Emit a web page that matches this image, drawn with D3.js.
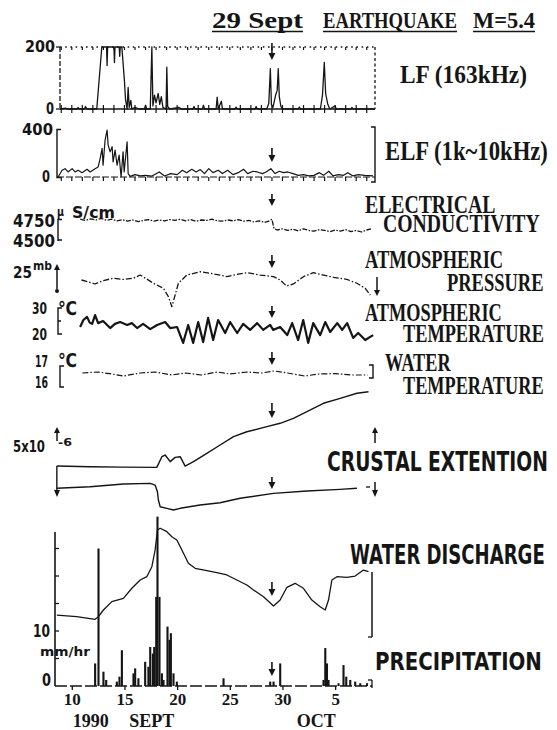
<!DOCTYPE html>
<html>
<head>
<meta charset="utf-8">
<script src="https://cdn.jsdelivr.net/npm/d3@7"></script>
<style>
  html, body { margin: 0; padding: 0; background: #fff; }
  svg { display: block; }
</style>
</head>
<body>
<svg id="chart" width="557" height="730"></svg>
<script>
// ---- Observations, Sept 9 – Oct 8 1990 (day number: Oct n = 30 + n) ----
const quakeDay = 29;

// LF (163 kHz) signal level, 0–200 (clipped at 200)
const lfSignal = [
  [8.9,0],[9.4,3],[9.6,0],[10.5,0],[10.6,5],[10.7,0],[11.2,0],[11.3,8],[11.45,0],[12.37,0],
  [12.85,200],[13.3,200],[13.35,140],[13.4,200],[14.0,200],[14.05,150],[14.1,200],[14.5,200],
  [14.55,170],[14.6,200],[14.75,200],[15.0,90],[15.1,30],[15.25,0],[15.35,70],[15.45,5],
  [15.6,28],[15.7,0],[16.0,5],[16.4,0],[16.9,0],[17.0,12],[17.1,0],[17.45,0],[17.6,200],
  [17.7,10],[17.85,45],[18.0,20],[18.2,50],[18.35,15],[18.5,40],[18.65,5],[18.95,0],
  [19.02,135],[19.1,8],[19.3,0],[20.2,5],[20.4,0],[21.5,0],[21.6,8],[21.7,0],[22.4,0],
  [22.5,12],[22.6,0],[23.7,0],[23.8,38],[23.9,0],[24.2,25],[24.3,0],[25.5,0],[25.6,6],
  [25.7,0],[27.4,0],[27.5,8],[27.6,0],[28.5,0],[28.7,18],[28.85,130],[28.95,15],[29.1,5],
  [29.35,45],[29.5,60],[29.6,130],[29.7,40],[29.85,8],[30.0,0],[31.5,0],[31.6,6],[31.7,0],
  [33.6,0],[33.8,45],[33.97,150],[34.1,50],[34.3,15],[34.5,0],[35.0,10],[35.1,0],[36.5,0],
  [36.6,5],[36.7,0],[38.75,0]
];

// ELF (1k–10kHz) signal level, 0–400
const elfSignal = [
  [8.7,0],[9.08,57],[9.36,71],[9.65,43],[10.03,71],[10.31,43],[10.6,57],[10.98,37],[11.45,66],
  [11.74,43],[12.21,71],[12.5,86],[12.69,157],[12.88,243],[12.97,100],[13.16,314],[13.35,400],
  [13.45,271],[13.64,214],[13.83,257],[13.92,129],[14.11,229],[14.3,100],[14.49,186],[14.68,0],
  [14.87,214],[14.97,43],[15.25,300],[15.35,29],[15.54,5],[16.0,20],[16.5,10],[17.0,14],
  [17.6,8],[18.3,43],[18.8,9],[19.4,29],[20.0,20],[20.5,57],[20.9,37],[21.4,66],[21.8,43],
  [22.2,63],[22.6,29],[23.0,71],[23.4,37],[23.9,57],[24.3,29],[24.8,57],[25.3,20],[25.8,37],
  [26.3,66],[26.7,29],[27.2,49],[27.6,43],[28.1,29],[28.4,40],[28.9,71],[29.3,29],[29.7,49],
  [30.1,37],[30.5,43],[31.0,29],[31.5,14],[32.0,20],[32.5,9],[33.0,14],[33.5,37],[33.9,14],
  [34.4,49],[34.8,9],[35.3,20],[35.8,14],[36.2,37],[36.7,9],[37.2,20],[37.8,14],[38.6,9]
];

// Electrical conductivity of groundwater, µS/cm
const conductivity = [
  [10.8,4760],[11.3,4745],[11.8,4765],[12.3,4750],[12.8,4770],[13.3,4745],[13.8,4760],[14.3,4740],
  [14.8,4755],[15.3,4735],[15.8,4750],[16.3,4730],[16.8,4745],[17.3,4755],[17.8,4735],[18.3,4750],
  [18.8,4740],[19.3,4755],[19.8,4745],[20.3,4760],[20.8,4740],[21.3,4755],[21.8,4735],[22.3,4750],
  [22.8,4745],[23.3,4760],[23.8,4740],[24.3,4735],[24.8,4750],[25.3,4740],[25.8,4755],[26.3,4735],
  [26.8,4745],[27.3,4725],[27.8,4740],[28.3,4720],[28.7,4735],[29.0,4760],[29.2,4640],[29.5,4625],
  [30.0,4640],[30.5,4620],[31.0,4635],[31.5,4615],[32.0,4640],[32.5,4620],[33.0,4610],[33.5,4630],
  [34.0,4620],[34.5,4605],[35.0,4625],[35.5,4610],[36.0,4630],[36.5,4605],[37.0,4620],[37.5,4600],
  [38.0,4625],[38.4,4640]
];

// Atmospheric pressure, mb
const pressure = [
  [10.92,1013],[11.5,1011.5],[12.21,1009.3],[13.0,1012.5],[13.95,1014.6],[14.9,1013.5],[15.85,1014.6],
  [16.49,1017.6],[17.1,1014],[17.75,1010],[18.7,1005.3],[19.17,997.6],[19.5,988.3],[19.81,999.1],
  [20.12,1010],[20.92,1017.6],[22.18,1020.7],[23.13,1019.2],[24.08,1017.6],[24.72,1016.1],
  [25.35,1017.6],[26.62,1019.8],[27.88,1017.6],[29.15,1016.1],[29.78,1013],[30.39,1007.4],
  [31.04,1009.3],[31.99,1016.1],[32.94,1019.8],[33.89,1017.6],[34.84,1015.5],[36.11,1013.6],
  [37.07,1010],[37.86,1005.3],[38.33,999.1]
];

// Atmospheric temperature, °C
const airTemp = [
  [10.79,22.3],[11.1,25.0],[11.45,26.2],[11.7,24.0],[11.93,23.5],[12.21,26.9],[12.5,23.8],
  [12.97,24.6],[13.64,21.9],[14.1,23.5],[14.59,24.2],[15.25,23.1],[15.7,23.8],[16.2,21.9],
  [16.77,23.5],[17.44,21.5],[18.1,23.1],[18.86,24.2],[19.34,21.9],[20.0,22.3],[20.57,16.2],
  [21.05,23.1],[21.52,16.2],[22.0,24.2],[22.47,16.5],[22.94,25.8],[23.42,17.3],[23.89,25.0],
  [24.56,20.0],[25.03,24.2],[25.7,20.0],[26.27,23.5],[26.93,21.2],[27.6,23.8],[28.17,21.2],
  [28.83,23.1],[29.12,21.2],[29.78,22.3],[30.45,19.2],[30.92,23.8],[31.49,17.3],[31.97,25.0],
  [32.44,16.2],[32.92,23.8],[33.58,19.2],[34.06,24.2],[34.53,20.4],[35.2,23.8],[35.67,21.2],
  [36.14,23.8],[36.71,18.1],[37.19,20.0],[37.86,17.3],[38.33,18.5],[38.61,19.2]
];

// Water temperature, °C
const waterTemp = [
  [11.0,16.45],[12.5,16.5],[13.8,16.4],[14.9,16.3],[16.5,16.45],[17.9,16.5],[19.5,16.35],
  [20.8,16.45],[22.3,16.35],[23.8,16.5],[25.0,16.4],[26.6,16.5],[28.0,16.45],[29.2,16.55],
  [30.5,16.45],[32.1,16.3],[33.5,16.4],[35.0,16.42],[36.6,16.35],[38.1,16.35]
];

// Crustal extension, two strain records (×10⁻⁶, relative)
const strainA = [
  [8.58,2.38],[11.7,2.33],[14.8,2.3],[18.07,2.28],[18.55,3.1],[18.86,3.23],[19.34,2.72],
  [19.81,3.05],[20.29,3.1],[20.76,2.38],[21.55,2.72],[22.82,3.36],[24.08,4.0],[25.35,4.64],
  [26.62,5.02],[28.52,5.41],[29.78,5.67],[31.04,6.05],[32.32,6.56],[33.89,7.21],[35.48,7.59],
  [37.07,7.98],[38.17,8.1]
];
const strainB = [
  [8.58,0.67],[11.74,0.79],[14.9,1.0],[17.44,1.05],[17.91,0.92],[18.13,0.41],[18.22,-0.23],
  [18.39,-0.75],[19.02,-0.87],[19.65,-1.0],[20.29,-0.87],[22.18,-0.62],[24.08,-0.44],
  [25.98,-0.1],[29.15,0.28],[32.32,0.46],[35.48,0.59],[37.07,0.67]
];

// Water discharge (relative level)
const discharge = [
  [8.58,20.8],[10.47,19.4],[12.21,17.25],[12.53,19.4],[13.0,25],[13.8,32],[14.9,34.75],
  [15.7,43.1],[16.49,50],[17.12,52.75],[17.6,61.1],[17.91,75],[18.13,91.7],[18.39,93.1],
  [19.02,90.25],[19.5,86.1],[19.97,83.3],[20.45,75],[21.07,63.9],[21.71,59.75],[22.82,57.75],
  [23.77,56.1],[24.72,54.2],[25.67,50],[26.62,45.8],[27.25,41.7],[28.2,36.1],[29.15,28.3],
  [29.78,33.3],[30.42,43.9],[31.2,47.25],[31.99,43.1],[32.79,33.3],[33.58,27.75],[34.06,25],
  [34.37,33.3],[34.69,50],[35.17,52.75],[36.11,52.2],[36.9,53.3],[37.69,58.3],[38.17,56.9]
];

// Precipitation, mm/hr
const precipitation = [
  [12.21,4.1],[12.53,25],[13.0,2.6],[13.26,1.1],[14.27,0.8],[14.52,1.7],[14.75,6.5],
  [15.85,2.3],[16.01,3.2],[16.32,1.4],[16.96,4.4],[17.27,3.5],[17.44,7.1],[17.69,5.9],
  [17.82,7.1],[18.01,16.2],[18.13,30.8],[18.32,16.2],[18.55,2.3],[18.7,1.1],[19.08,10.8],
  [19.27,8.4],[19.4,9.6],[19.65,2.3],[19.97,0.8],[24.4,1.4],[28.83,0.8],[29.15,0.8],
  [29.78,4.1],[33.89,1.1],[34.06,6.9],[34.22,4.1],[34.37,1.1],[35.32,0.5],[35.79,3.8],
  [36.05,1.7],[36.43,1.1],[36.9,0.8],[37.38,0.5],[38.02,0.5]
];

// Date axis
const dayTicks = [10, 15, 20, 25, 30, 35];
const dayTickLabels = ["10", "15", "20", "25", "30", "5"];
const monthLabels = [["1990", 11.8], ["SEPT", 17.6], ["OCT", 33.2]];

// ---------------------------------------------------------------
const svg = d3.select("#chart");
const ink = "#151515";
const serif = "'Liberation Serif', 'DejaVu Serif', serif";
const sans = "'DejaVu Sans', 'Liberation Sans', sans-serif";

const x = d3.scaleLinear().domain([8.5, 38.5]).range([56, 372]);

const yLF = d3.scaleLinear().domain([0, 200]).range([109, 47]).clamp(true);
const yELF = d3.scaleLinear().domain([0, 400]).range([177, 130]);
const yCond = d3.scaleLinear().domain([4500, 4750]).range([240, 220]);
const yPress = d3.scaleLinear().domain([988, 1013]).range([307, 280]);
const yTemp = d3.scaleLinear().domain([20, 30]).range([333, 307]);
const yWater = d3.scaleLinear().domain([16, 17]).range([382, 362]);
const yStrain = d3.scaleLinear().domain([0, 5]).range([497, 432]);
const yDis = d3.scaleLinear().domain([0, 100]).range([640, 520]);
const yRain = d3.scaleLinear().domain([0, 10]).range([686, 631]);

function series(data, y, w, dash) {
  svg.append("path")
    .datum(data)
    .attr("d", d3.line().x(d => x(d[0])).y(d => y(d[1])))
    .attr("fill", "none")
    .attr("stroke", ink)
    .attr("stroke-width", w)
    .attr("stroke-linejoin", "round")
    .attr("stroke-dasharray", dash || null);
}

function seg(x1, y1, x2, y2, w, dash) {
  svg.append("line")
    .attr("x1", x1).attr("y1", y1).attr("x2", x2).attr("y2", y2)
    .attr("stroke", ink).attr("stroke-width", w || 1.3)
    .attr("stroke-dasharray", dash || null);
}

function poly(d, w) {
  svg.append("path").attr("d", d).attr("fill", "none")
    .attr("stroke", ink).attr("stroke-width", w || 1.3);
}

// Bold text fitted horizontally into [x1, x2] by a horizontal squeeze
function label(str, x1, x2, base, size, fam) {
  const t = svg.append("text")
    .attr("font-family", fam).attr("font-size", size).attr("font-weight", "bold")
    .attr("fill", ink)
    .text(str);
  const w = t.node().getComputedTextLength() || 1;
  t.attr("transform", `translate(${x1},${base}) scale(${((x2 - x1) / w).toFixed(4)},1)`);
  return t;
}

// Two-line label set as one text block; lines = [[text, x1, x2, baseline], ...]
function stackedLabel(lines, size, fam) {
  const t = svg.append("text")
    .attr("font-family", fam).attr("font-size", size).attr("font-weight", "bold")
    .attr("fill", ink);
  const spans = lines.map(l => t.append("tspan").text(l[0]));
  const s = d3.mean(lines, (l, i) => (l[2] - l[1]) / (spans[i].node().getComputedTextLength() || 1));
  spans.forEach((sp, i) => sp.attr("x", (lines[i][1] / s).toFixed(2)).attr("y", lines[i][3]));
  t.attr("transform", `scale(${s.toFixed(4)},1)`);
  return t;
}

// arrow pointing down, tip at yTip
function downArrow(xp, yTop, yTip) {
  seg(xp, yTop, xp, yTip - 4, 1.6);
  svg.append("path")
    .attr("d", `M${xp - 3.5},${yTip - 7}L${xp + 3.5},${yTip - 7}L${xp},${yTip}Z`)
    .attr("fill", ink);
}
function upArrow(xp, yBottom, yTip) {
  seg(xp, yBottom, xp, yTip + 4, 1.5);
  svg.append("path")
    .attr("d", `M${xp - 3},${yTip + 6}L${xp + 3},${yTip + 6}L${xp},${yTip}Z`)
    .attr("fill", ink);
}

const dailyTicks = d3.range(9, 39);

// ---- Title ----
[["29 Sept", 212, 303], ["EARTHQUAKE", 323, 457], ["M=5.4", 473, 535]].forEach(t => {
  label(t[0], t[1], t[2], 28, 23, serif);
  seg(t[1], 31.5, t[2], 31.5, 1.5);
});

// ---- LF panel ----
seg(60, 47, 60, 109, 1.3, "5,2");
seg(60, 47, 375, 47, 1.6, "1.6,3.6");
seg(375, 47, 375, 109, 1.3, "3,2.5");
seg(60, 109, 375, 109, 1.4);
seg(56, 47, 60, 47, 1.3);
seg(56, 109, 60, 109, 1.3);
dailyTicks.forEach(d => {
  seg(x(d), 47, x(d), 50, 1.2);
  seg(x(d), 105, x(d), 113, 1.2);
});
series(lfSignal, yLF, 1.3);
label("200", 25, 55, 52, 15, sans);
label("0", 46, 54, 114, 15, sans);
label("LF (163kHz)", 400, 527, 83, 25, serif);

// ---- ELF panel ----
poly("M61,129.5H57V177.5H61", 1.4);
poly("M371,127H375V182H371", 1.4);
seg(57, 177, 375, 177, 1.2, "7,2");
dailyTicks.forEach(d => seg(x(d), 177, x(d), 181, 1.2));
series(elfSignal, yELF, 1.2);
label("400", 22, 53, 135, 15, sans);
label("0", 42, 50, 182, 15, sans);
label("ELF (1k~10kHz)", 385, 548, 160, 27, serif);

// ---- Electrical conductivity ----
poly("M62,219.5H58V241M58,240H62", 1.4);
series(conductivity, yCond, 1.3, "5,1.5,1.5,1.5");
label("4750", 13, 55, 227, 17, sans);
label("4500", 13, 55, 247, 17, sans);
label("µ", 57, 64, 216, 13, sans);
label("S/cm", 72, 115, 218, 15, sans);
stackedLabel([["ELECTRICAL", 365, 487, 213], ["CONDUCTIVITY", 383, 550, 232]], 25, serif);

// ---- Atmospheric pressure ----
upArrow(57, 289, 264);
svg.append("circle").attr("cx", 57).attr("cy", 291).attr("r", 2).attr("fill", ink);
series(pressure, yPress, 1.3, "6,2,1.5,2");
seg(377, 277, 377, 291, 1.5);
svg.append("path").attr("d", "M374,290L380,290L377,296Z").attr("fill", ink);
label("25", 13, 32, 278, 16, sans);
label("mb", 33, 52, 270, 12, sans);
stackedLabel([["ATMOSPHERIC", 365, 497, 268], ["PRESSURE", 447, 548, 291]], 25, serif);

// ---- Atmospheric temperature ----
poly("M62,308H58V334H62M58,321H61", 1.4);
series(airTemp, yTemp, 2.2);
label("30", 32, 47, 314, 16, sans);
label("20", 32, 47, 340, 16, sans);
label("℃", 58, 77, 315, 19, sans);
stackedLabel([["ATMOSPHERIC", 365, 498, 321], ["TEMPERATURE", 403, 548, 342]], 25, serif);

// ---- Water temperature ----
poly("M64,366H60V387H64", 1.4);
poly("M369,365H373V378H369", 1.4);
series(waterTemp, yWater, 1.2, "6,2,1.5,2");
label("17", 35, 48, 367, 16, sans);
label("16", 35, 48, 388, 16, sans);
label("℃", 58, 77, 367, 19, sans);
stackedLabel([["WATER", 385, 448, 371], ["TEMPERATURE", 403, 548, 394]], 25, serif);

// ---- Crustal extension ----
upArrow(57, 441, 427);
upArrow(375, 443, 427);
seg(x(strainA[0][0]), yStrain(strainA[0][1]), x(strainA[0][0]), 492, 1.4);
svg.append("path").attr("d", "M54,490L60,490L57,497Z").attr("fill", ink);
seg(375, 482, 375, 492, 1.5);
svg.append("path").attr("d", "M372,490L378,490L375,497Z").attr("fill", ink);
seg(366, 487, 370, 487, 1.3);
series(strainA, yStrain, 1.4);
series(strainB, yStrain, 1.4);
label("5x10", 13, 45, 452, 16, sans);
label("-6", 58, 72, 446, 10, sans);
label("CRUSTAL EXTENTION", 327, 548, 471, 26, sans);

// ---- Water discharge & precipitation ----
seg(55, 532, 55, 686, 1.6);
[5, 10, 15, 20, 25].forEach(v => seg(55, yRain(v), 59, yRain(v), 1.3));
seg(372, 572, 372, 637, 1.5);
seg(368, 637, 372, 637, 1.3);
seg(372, 680, 372, 688, 1.3);
seg(368, 680, 372, 680, 1.3);

series(discharge, yDis, 1.3);

svg.append("g").selectAll("rect")
  .data(precipitation)
  .join("rect")
  .attr("x", d => x(d[0]) - 1)
  .attr("width", d => x(d[0] + 0.2) - x(d[0]))
  .attr("y", d => yRain(d[1]))
  .attr("height", d => yRain(0) - yRain(d[1]))
  .attr("fill", ink);

seg(55, 686, 372, 686, 1.4, "12,3");

const axis = d3.axisBottom(x)
  .tickValues(dayTicks)
  .tickFormat((d, i) => dayTickLabels[i])
  .tickSize(4)
  .tickPadding(3);
const gx = svg.append("g").attr("transform", "translate(0,686)").call(axis);
gx.select(".domain").remove();
gx.selectAll(".tick line").attr("stroke", ink).attr("stroke-width", 1.3);
gx.selectAll(".tick text")
  .attr("font-family", serif).attr("font-size", 17).attr("font-weight", "bold")
  .attr("fill", ink);

monthLabels.forEach(m => {
  svg.append("text").attr("x", x(m[1])).attr("y", 727)
    .attr("text-anchor", "middle")
    .attr("font-family", serif).attr("font-size", 18).attr("font-weight", "bold")
    .attr("fill", ink).text(m[0]);
});

label("10", 33, 50, 637, 17, sans);
label("mm/hr", 40, 90, 656, 13, sans);
label("0", 42, 51, 686, 17, sans);
label("WATER DISCHARGE", 350, 545, 564, 26, sans);
label("PRECIPITATION", 375, 542, 670, 24, sans);

// ---- Earthquake markers ----
const xq = x(quakeDay);
[[43, 60], [148, 162], [194, 206], [255, 268], [306, 318], [352, 365],
 [403, 418], [477, 489], [582, 596], [662, 676]].forEach(a => downArrow(xq, a[0], a[1]));
</script>
</body>
</html>
